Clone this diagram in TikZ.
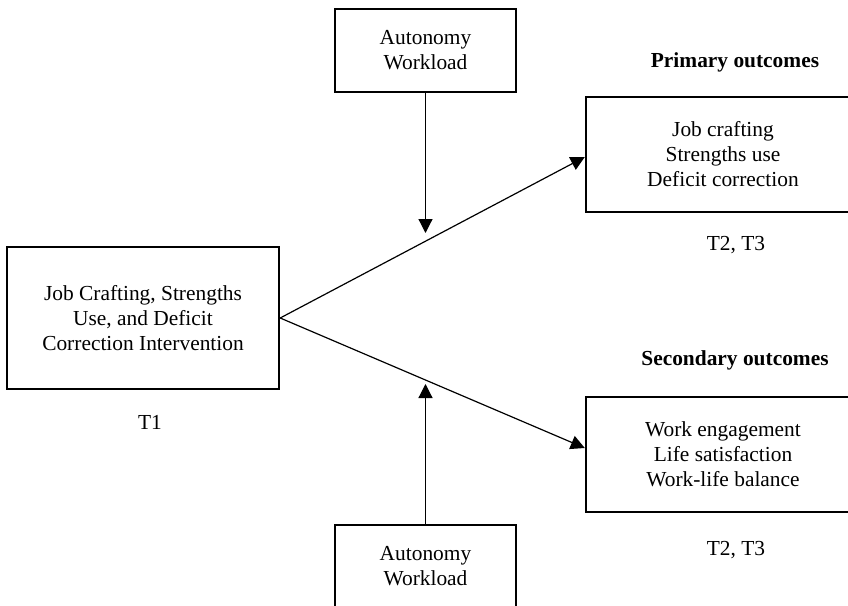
\documentclass[tikz,border=0pt]{standalone}
\usepackage{fontspec}
\setmainfont{Liberation Serif}
\usetikzlibrary{positioning,calc,arrows.meta}
\tikzset{>={Triangle[length=7pt,width=7pt]}}

\begin{document}
\begin{tikzpicture}[x=0.5pt,y=-0.5pt,
  box/.style={draw,line width=1.2pt,align=center,inner sep=0pt,font=\fontsize{10.7}{12.5}\selectfont},
  lbl/.style={align=center,inner sep=0pt,font=\fontsize{10.7}{12.5}\selectfont},
  head/.style={lbl,font=\fontsize{10.7}{12.5}\selectfont\bfseries},
  arr/.style={->,line width=0.6pt}]
\useasboundingbox (0,0) rectangle (848,606);
\clip (0,0) rectangle (848,606);
% Intervention box and its time label
\node[box,minimum width=136pt,minimum height=71pt] (interv) at (143,318) {Job Crafting, Strengths\\Use, and Deficit\\Correction Intervention};
\node[lbl] (t1) at (150,422) {T1};

% Moderator boxes
\node[box,minimum width=90.5pt,minimum height=41.5pt] (modtop) at (425.5,50.5) {Autonomy\\Workload};
\node[box,minimum width=90.5pt,minimum height=41.5pt] (modbot) at (425.5,566.5) {Autonomy\\Workload};

% Primary outcomes
\node[head] (primhead) at (735,62) {Primary outcomes};
\node[box,minimum width=137pt,minimum height=57.5pt] (prim) at (723,154.5) {Job crafting\\Strengths use\\Deficit correction};
\node[lbl] (primtime) at (736,245) {T2, T3};

% Secondary outcomes
\node[head] (sechead) at (735,360) {Secondary outcomes};
\node[box,minimum width=137pt,minimum height=57.5pt] (sec) at (723,454.5) {Work engagement\\Life satisfaction\\Work-life balance};
\node[lbl] (sectime) at (736,550) {T2, T3};

% Paths from the intervention to the outcomes
\draw[arr] (interv.east) -- ([yshift=-1.25pt]prim.west);
\draw[arr] (interv.east) -- ([yshift=3.25pt]sec.west);

% Moderator arrows onto the paths
\coordinate (uptip) at (425.5,233);
\coordinate (lotip) at (425.5,384);
\draw[arr] (modtop) -- (uptip);
\draw[arr] (modbot) -- (lotip);
\end{tikzpicture}
\end{document}
